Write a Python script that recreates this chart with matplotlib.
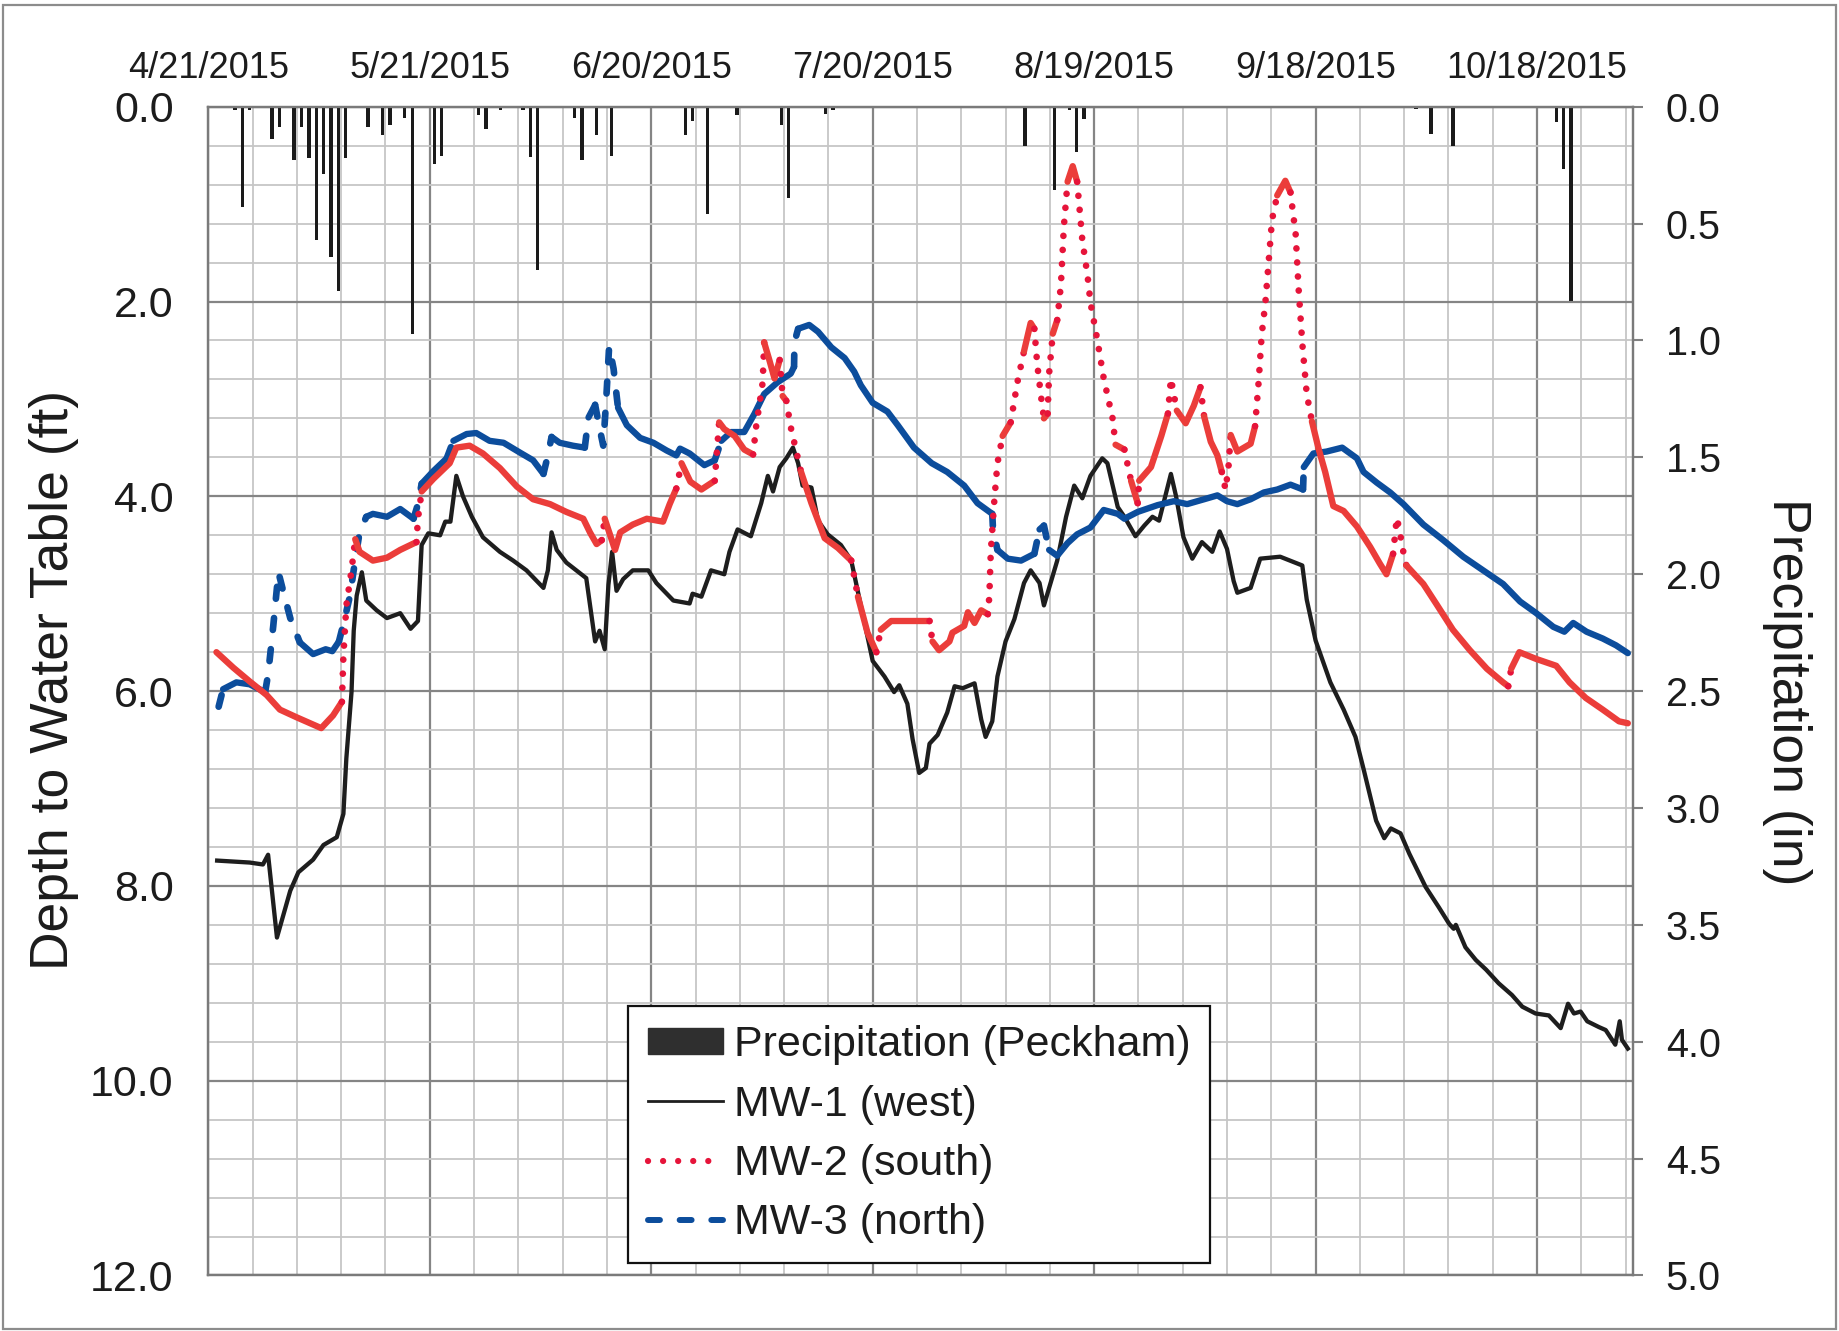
import numpy as np
import matplotlib
matplotlib.use("Agg")
import matplotlib.pyplot as plt
from matplotlib.lines import Line2D
from matplotlib.patches import Patch, Rectangle
from matplotlib.ticker import MultipleLocator, FormatStrFormatter, FixedLocator

plt.rcParams['font.family'] = ['Liberation Sans', 'DejaVu Sans']

# ---------------- DATA ----------------
# x values: days since 4/21/2015
date_tick_days = [0, 30, 60, 90, 120, 150, 180]
date_tick_labels = ['4/21/2015', '5/21/2015', '6/20/2015', '7/20/2015',
                    '8/19/2015', '9/18/2015', '10/18/2015']
x_end_day = 193  # 10/31/2015

# Daily precipitation (Peckham), inches
precip_day = [3, 4, 5, 8, 9, 11, 12, 13, 14, 15, 16, 17, 18, 21, 23, 24, 26, 27, 28,
              30, 31, 33, 36, 37, 39, 42, 43, 44, 49, 50, 51, 52, 54, 55,
              64, 65, 67, 71, 77, 78, 83, 84, 97,
              110, 114, 116, 117, 118, 161, 163, 165, 168, 169, 182, 183, 184, 185, 189]
precip_in = [0.016, 0.43, 0.016, 0.137, 0.087, 0.227, 0.087, 0.219, 0.57, 0.287, 0.641,
             0.79, 0.219, 0.087, 0.119, 0.079, 0.047, 0.973, 0.006,
             0.247, 0.209, 0.006, 0.036, 0.096, 0.016, 0.016, 0.217, 0.70, 0.047, 0.227,
             0.006, 0.119, 0.209, 0.006,
             0.119, 0.059, 0.459, 0.037, 0.079, 0.39, 0.029, 0.016, 0.006,
             0.166, 0.357, 0.016, 0.194, 0.054, 0.006, 0.008, 0.116, 0.169, 0.006,
             0.066, 0.266, 0.833, 0.006, 0.006]

# MW-1 (west) depth to water table, ft
mw1_day = [1.2, 5.6, 7.4, 8.1, 9.3, 11.1, 12.2, 14.2, 15.6, 17.4, 18.3, 18.7, 19.4, 19.7,
           20.1, 20.8, 21.4, 22.8, 24.2, 26.0, 27.4, 28.4, 28.9, 29.8, 31.4, 32.1, 32.8,
           33.6, 34.5, 35.7, 37.2, 39.5, 41.3, 43.1, 45.4, 46.0, 46.5, 47.2, 48.5, 51.2,
           52.4, 53.0, 53.7, 54.2, 54.7, 55.3, 56.2, 57.5, 59.6, 60.7, 63.0, 65.2, 65.6,
           66.8, 68.1, 69.9, 70.6, 71.7, 73.5, 74.9, 75.8, 76.5, 77.4, 78.3, 79.2, 79.9,
           80.5, 81.7, 82.6, 83.9, 85.7, 87.1, 88.0, 88.9, 90.0, 91.6, 92.9, 93.6, 94.7,
           95.4, 96.3, 97.2, 97.7, 98.8, 100.1, 101.1, 102.2, 103.8, 104.7, 105.3, 106.2,
           106.9, 108.0, 109.2, 110.5, 111.4, 112.6, 113.2, 114.1, 115.0, 116.2, 117.3,
           118.4, 119.5, 121.1, 121.8, 123.2, 124.1, 125.6, 126.8, 127.9, 128.8, 129.7,
           130.4, 131.1, 132.1, 133.3, 134.6, 136.0, 137.0, 138.0, 138.9, 139.4, 141.2,
           142.5, 145.2, 148.2, 148.8, 150.0, 152.0, 153.8, 155.4, 156.5, 157.4, 158.2,
           159.3, 160.2, 161.5, 162.7, 164.9, 166.7, 168.1, 168.7, 169.0, 170.3, 171.7,
           173.1, 174.8, 176.6, 178.0, 179.8, 181.6, 183.2, 184.2, 185.0, 185.9, 186.8,
           188.4, 189.3, 190.6, 191.2, 191.5, 192.3]
mw1_ft = [7.74, 7.76, 7.78, 7.68, 8.53, 8.05, 7.86, 7.73, 7.58, 7.50, 7.26, 6.69, 6.01, 5.38,
          5.02, 4.78, 5.07, 5.17, 5.25, 5.20, 5.36, 5.28, 4.50, 4.38, 4.40, 4.26, 4.26,
          3.79, 4.00, 4.21, 4.42, 4.57, 4.66, 4.76, 4.94, 4.76, 4.37, 4.55, 4.68, 4.84,
          5.49, 5.38, 5.57, 4.91, 4.57, 4.97, 4.85, 4.76, 4.76, 4.89, 5.07, 5.10, 5.00,
          5.03, 4.76, 4.80, 4.57, 4.34, 4.41, 4.07, 3.79, 3.95, 3.70, 3.61, 3.50, 3.66,
          3.89, 3.91, 4.25, 4.39, 4.50, 4.66, 4.98, 5.30, 5.69, 5.85, 6.01, 5.94, 6.13,
          6.49, 6.84, 6.79, 6.54, 6.45, 6.22, 5.95, 5.97, 5.92, 6.29, 6.47, 6.31,
          5.85, 5.49, 5.26, 4.89, 4.76, 4.89, 5.12, 4.89, 4.66, 4.21, 3.89,
          4.02, 3.79, 3.61, 3.66, 4.11, 4.21, 4.41, 4.30, 4.21, 4.25, 3.98,
          3.77, 4.00, 4.42, 4.64, 4.47, 4.57, 4.36, 4.54, 4.87, 4.99, 4.94,
          4.64, 4.62, 4.71, 5.06, 5.48, 5.91, 6.19, 6.47, 6.80, 7.08, 7.33,
          7.51, 7.41, 7.46, 7.67, 8.01, 8.22, 8.39, 8.44, 8.40, 8.63, 8.76,
          8.86, 9.00, 9.12, 9.24, 9.31, 9.33, 9.46, 9.21, 9.31, 9.29, 9.39,
          9.45, 9.48, 9.63, 9.39, 9.58, 9.67]

# MW-2 (south)
mw2_day = [1.1, 3.4, 5.6, 7.9, 9.7, 12.0, 13.8, 15.3, 16.9, 18.1, 18.3, 18.7, 19.4, 19.9,
           20.5, 22.3, 24.2, 26.0, 28.2, 28.4, 28.9, 30.5, 32.7, 33.6, 35.4, 37.2, 39.5,
           41.8, 44.0, 46.3, 48.5, 50.8, 51.7, 52.6, 53.3, 53.7, 54.4, 55.1, 55.8, 57.5,
           59.4, 61.6, 62.5, 63.4, 64.1, 65.3, 66.8, 68.6, 69.2, 69.9, 71.3, 72.6, 73.8,
           74.2, 75.1, 75.3, 76.0, 76.7, 77.4, 77.8, 78.3, 78.9, 80.3, 81.7, 83.5, 85.3,
           87.1, 88.0, 89.3, 90.5, 91.1, 92.5, 94.7, 97.7, 98.1, 99.0, 100.4, 100.8,
           102.4, 102.9, 103.8, 104.7, 105.6, 105.8, 106.0, 106.5, 106.9, 107.6, 108.7,
           109.6, 110.5, 111.4, 111.9, 112.3, 112.8, 113.2, 113.7, 113.9, 114.4, 115.0,
           115.5, 115.9, 116.4, 117.1, 117.7, 118.4, 119.1, 119.5, 120.4, 121.3, 122.5,
           122.9, 124.1, 125.0, 125.9, 126.1, 127.7, 129.1, 130.0, 130.4, 131.2, 132.4,
           133.5, 134.4, 134.9, 135.8, 136.7, 137.3, 137.8, 138.2, 138.5, 139.4, 141.2,
           141.8, 142.3, 142.7, 143.2, 143.6, 144.1, 144.8, 145.9, 146.6, 147.3, 147.7,
           148.2, 148.8, 149.5, 150.4, 151.3, 152.4, 153.8, 155.6, 157.4, 158.7, 159.6,
           160.5, 161.0, 161.4, 161.8, 162.3, 164.6, 166.4, 168.6, 170.9, 173.2, 175.4,
           176.1, 176.5, 177.6, 179.9, 182.6, 184.4, 186.6, 188.9, 191.1, 192.3]
mw2_ft = [5.60, 5.76, 5.90, 6.04, 6.19, 6.27, 6.33, 6.38, 6.25, 6.11, 5.64, 5.12, 4.76, 4.44,
          4.57, 4.66, 4.63, 4.55, 4.47, 4.23, 3.95, 3.82, 3.66, 3.50, 3.48, 3.56, 3.71,
          3.90, 4.03, 4.08, 4.16, 4.23, 4.37, 4.49, 4.45, 4.23, 4.39, 4.55, 4.37, 4.29,
          4.23, 4.26, 4.08, 3.92, 3.66, 3.85, 3.93, 3.84, 3.24, 3.31, 3.38, 3.52, 3.57,
          3.29, 2.83, 2.42, 2.60, 2.79, 2.60, 2.97, 3.02, 3.29, 3.75, 4.07, 4.43, 4.53,
          4.66, 5.03, 5.40, 5.60, 5.37, 5.28, 5.28, 5.28, 5.49, 5.58, 5.49, 5.40,
          5.33, 5.19, 5.30, 5.17, 5.21, 5.03, 4.57, 4.02, 3.66, 3.38, 3.24,
          2.83, 2.51, 2.22, 2.28, 2.65, 2.97, 3.20, 3.15, 2.74, 2.33, 2.19,
          1.83, 1.23, 0.77, 0.61, 0.77, 1.37, 1.73, 2.01, 2.38, 2.79, 3.20,
          3.47, 3.52, 3.84, 4.07, 3.84, 3.70, 3.38, 3.15, 2.79, 3.12, 3.25,
          3.07, 2.88, 3.18, 3.44, 3.58, 3.75, 3.93, 3.70, 3.37, 3.54, 3.46,
          3.28, 2.81, 2.34, 2.01, 1.63, 1.16, 0.91, 0.76, 0.88, 1.31, 1.87,
          2.43, 2.95, 3.23, 3.51, 3.75, 4.10, 4.15, 4.31, 4.52, 4.69, 4.80,
          4.59, 4.22, 4.36, 4.54, 4.71, 4.90, 5.11, 5.37, 5.58, 5.77, 5.91,
          5.95, 5.77, 5.60, 5.67, 5.74, 5.91, 6.07, 6.19, 6.31, 6.33]

# MW-3 (north)
mw3_day = [1.4, 2.0, 3.8, 5.6, 7.7, 8.1, 8.8, 9.5, 10.2, 11.1, 12.4, 14.2, 15.9, 16.8, 17.7,
           18.4, 19.2, 19.9, 20.5, 21.4, 22.3, 24.2, 26.0, 27.8, 28.4, 28.9, 30.5, 32.3,
           33.2, 35.0, 36.3, 38.1, 40.0, 42.2, 44.0, 45.4, 46.0, 46.5, 47.6, 49.4, 51.0,
           51.5, 52.4, 53.0, 53.5, 53.9, 54.3, 54.9, 55.5, 56.7, 58.5, 60.3, 62.1, 63.4,
           63.9, 65.2, 67.2, 68.6, 69.5, 70.8, 72.6, 74.0, 75.3, 77.1, 78.9, 79.35, 79.4,
           79.9, 81.4, 82.6, 84.4, 86.2, 87.5, 88.4, 90.0, 92.0, 93.4, 95.6, 98.0, 100.1,
           102.4, 104.2, 106.2, 106.3, 106.9, 108.3, 110.1, 111.9, 112.6, 113.2, 113.9,
           115.0, 116.4, 117.7, 119.5, 121.3, 123.2, 124.1, 125.9, 128.6, 130.8, 132.6,
           134.9, 136.7, 138.0, 139.4, 141.2, 143.0, 144.8, 146.6, 148.3, 148.4, 149.7,
           151.5, 153.6, 155.6, 156.5, 158.3, 160.1, 161.9, 164.6, 167.3, 170.0, 172.7,
           175.4, 177.7, 179.9, 182.2, 183.7, 184.9, 186.7, 188.9, 190.7, 192.3]
mw3_ft = [6.16, 5.98, 5.91, 5.93, 6.01, 5.83, 5.33, 4.78, 4.99, 5.25, 5.50, 5.62, 5.57, 5.59,
          5.49, 5.28, 5.02, 4.65, 4.37, 4.21, 4.18, 4.21, 4.13, 4.23, 4.08, 3.87, 3.74,
          3.61, 3.43, 3.36, 3.35, 3.43, 3.45, 3.55, 3.63, 3.77, 3.58, 3.39, 3.45, 3.48,
          3.50, 3.19, 3.06, 3.30, 3.48, 3.01, 2.46, 2.69, 3.09, 3.27, 3.40, 3.45, 3.53,
          3.58, 3.51, 3.56, 3.68, 3.63, 3.43, 3.34, 3.34, 3.15, 2.95, 2.83, 2.74, 2.67,
          2.42, 2.28, 2.24, 2.31, 2.47, 2.58, 2.72, 2.86, 3.04, 3.13, 3.27, 3.50, 3.66,
          3.75, 3.89, 4.07, 4.18, 4.34, 4.55, 4.64, 4.66, 4.59, 4.34, 4.30, 4.55,
          4.61, 4.48, 4.39, 4.32, 4.14, 4.18, 4.23, 4.16, 4.09, 4.05, 4.08,
          4.03, 3.99, 4.05, 4.08, 4.03, 3.96, 3.93, 3.88, 3.93, 3.70, 3.56,
          3.54, 3.50, 3.61, 3.75, 3.86, 3.96, 4.08, 4.29, 4.45, 4.62, 4.76,
          4.90, 5.08, 5.20, 5.34, 5.39, 5.30, 5.39, 5.46, 5.53, 5.61]

series_labels = ['Precipitation (Peckham)', 'MW-1 (west)', 'MW-2 (south)', 'MW-3 (north)']

# ---------------- STYLE ----------------
TXT = '#1c1c1c'
RED = '#e6143a'
RED_SOLID = '#eb3d3a'
BLUE = '#0c4d9c'
BLACK = '#1e1e1e'
GRID_MAJ = '#858585'
GRID_MIN = '#c6c6c6'

fig = plt.figure(figsize=(18.39, 13.31), dpi=100)
fig.patch.set_facecolor('white')

ax = fig.add_axes([0.11327, 0.0417, 0.77472, 0.8781])
ax.set_xlim(0, x_end_day)
ax.set_ylim(12, 0)

ax.xaxis.set_major_locator(FixedLocator(date_tick_days))
ax.set_xticklabels(date_tick_labels)
ax.xaxis.set_minor_locator(MultipleLocator(6))
ax.yaxis.set_major_locator(MultipleLocator(2))
ax.yaxis.set_minor_locator(MultipleLocator(0.4))
ax.yaxis.set_major_formatter(FormatStrFormatter('%.1f'))
ax.xaxis.tick_top()
ax.tick_params(axis='both', which='both', length=0)
ax.tick_params(axis='x', which='major', labelsize=26, pad=15, labelcolor=TXT)
ax.tick_params(axis='y', which='major', labelsize=31, pad=25, labelcolor=TXT)
ax.grid(which='minor', color=GRID_MIN, lw=1.3)
ax.grid(which='major', color=GRID_MAJ, lw=1.6)
ax.set_axisbelow(True)
for s in ax.spines.values():
    s.set_color('#7a7a7a')
    s.set_linewidth(1.6)


def draw_series(axis, xs, ys, color, solid_color, lw, pattern, thresh, z):
    xs = np.asarray(xs, float)
    ys = np.asarray(ys, float)
    pts = axis.transData.transform(np.column_stack([xs, ys]))
    d = np.diff(pts, axis=0)
    ang = np.degrees(np.arctan2(np.abs(d[:, 1]), np.abs(d[:, 0]) + 1e-9))
    steep = ang > thresh
    n = len(steep)
    i = 0
    while i < n:
        j = i
        while j + 1 < n and steep[j + 1] == steep[i]:
            j += 1
        sx = xs[i:j + 2]
        sy = ys[i:j + 2]
        if steep[i]:
            axis.plot(sx, sy, color=color, lw=lw, dashes=pattern,
                      dash_capstyle='round', zorder=z)
        else:
            axis.plot(sx, sy, color=solid_color, lw=lw * 0.95,
                      solid_capstyle='round', solid_joinstyle='round', zorder=z)
        i = j + 1


ax.plot(mw1_day, mw1_ft, color=BLACK, lw=3.1, solid_joinstyle='round', zorder=3)
draw_series(ax, mw3_day, mw3_ft, BLUE, BLUE, 4.8, (1.8, 2.9), 65, 4)
draw_series(ax, mw2_day, mw2_ft, RED, RED_SOLID, 4.8, (0.01, 2.1), 77, 5)

# Precipitation axis (right)
ax2 = ax.twinx()
ax2.set_ylim(5, 0)
ax2.set_xlim(0, x_end_day)
ax2.bar(np.asarray(precip_day) + 0.62, precip_in, width=0.45, color='#1a1a1a',
        bottom=0, zorder=2)
ax2.yaxis.set_major_locator(MultipleLocator(0.5))
ax2.yaxis.set_major_formatter(FormatStrFormatter('%.1f'))
ax2.tick_params(axis='y', which='major', length=7.5, width=1.5, color='#808080',
                direction='out', pad=16, labelsize=28.5, labelcolor=TXT)
ax2.tick_params(axis='y', which='minor', length=0)
ax2.tick_params(axis='x', which='both', length=0, labeltop=False, labelbottom=False)
for s in ax2.spines.values():
    s.set_color('#7a7a7a')
    s.set_linewidth(1.6)

# Legend
handles = [
    Patch(facecolor='#2f2f2f', edgecolor='#2f2f2f'),
    Line2D([], [], color=BLACK, lw=2.0),
    Line2D([], [], color=RED, lw=4.5, dashes=(0.01, 2.4), dash_capstyle='round'),
    Line2D([], [], color=BLUE, lw=4.3, dashes=(2, 3.3), dash_capstyle='round'),
]
leg = ax2.legend(handles, series_labels, loc='center', bbox_to_anchor=(0.4988, 0.1209),
                 fontsize=31, frameon=True, fancybox=False, framealpha=1,
                 edgecolor='#111111', borderpad=0.45, handlelength=1.75,
                 handletextpad=0.25, labelspacing=0.45, handleheight=0.55,
                 borderaxespad=0)
leg.get_frame().set_linewidth(1.6)
for t in leg.get_texts():
    t.set_color(TXT)
leg.set_zorder(10)

# Axis titles
fig.text(0.0291, 0.4893, 'Depth to Water Table (ft)', rotation=90, ha='center',
         va='center', fontsize=38.5, color=TXT)
fig.text(0.9718, 0.480, 'Precipitation (in)', rotation=-90, ha='center',
         va='center', fontsize=38.5, color=TXT)

# Outer frame
fig.patches.append(Rectangle((0.0018, 0.0018), 0.9966, 0.9948, transform=fig.transFigure,
                             fill=False, edgecolor='#8c8c8c', lw=1.6))

fig.savefig('out.png', dpi=100)
